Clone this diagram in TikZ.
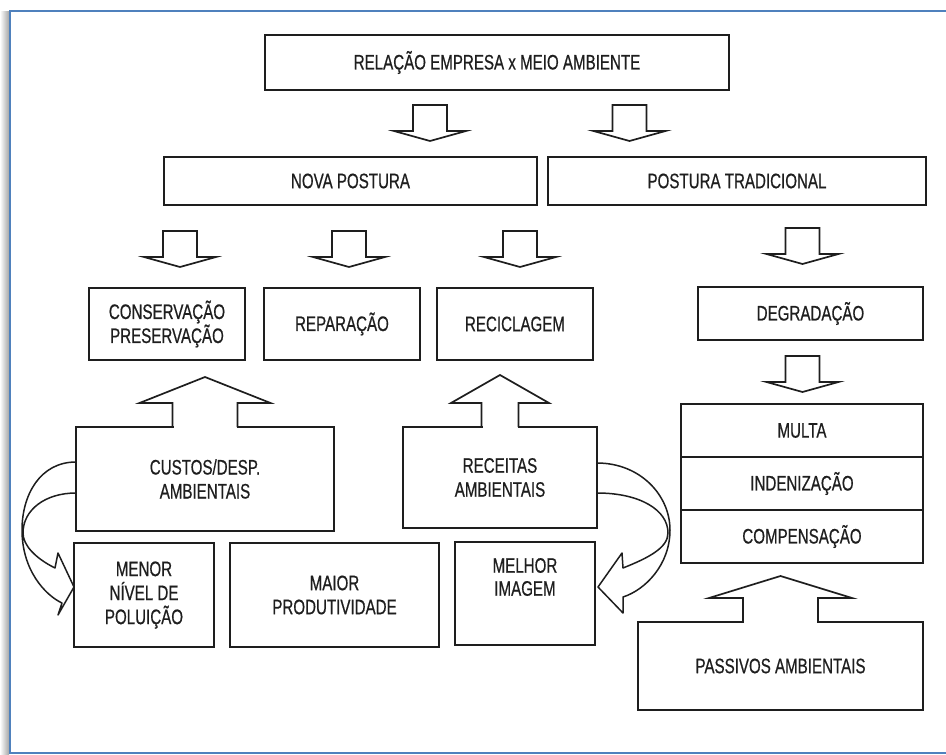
\documentclass[tikz,border=0pt]{standalone}
\usepackage{fontspec}
\setmainfont{Liberation Sans}[FakeStretch=0.72, FakeBold=0.6]
\usepackage{tikz}
\usetikzlibrary{positioning, calc}
\definecolor{framebl}{RGB}{79,129,189}
\definecolor{ink}{RGB}{30,30,30}
\tikzset{
    box/.style={rectangle, draw=ink, line width=2.3pt, text=ink, align=center, inner sep=0pt, outer sep=0pt, font=\fontsize{21}{24}\selectfont},
    plaintext/.style={text=ink, align=center, inner sep=0pt, font=\fontsize{21}{23}\selectfont},
    blockarrow/.style={draw=ink, line width=1.7pt},
    curvedarrow/.style={draw=ink, line width=1.5pt, line join=round},
    pics/downarrow/.style={code={
        \draw[blockarrow] (-17,0) -- (-17,26) -- (-36,26) -- (0,36) -- (36,26) -- (17,26) -- (17,0) -- cycle;
    }},
    pics/uparrow/.style n args={3}{code={
        \fill[white] (-#1+1,3) rectangle (#1-1,-2);
        \draw[blockarrow] (-#1,0) -- (-#1,-24) -- (-#2,-24) -- (0,-24-#3) -- (#2,-24) -- (#1,-24) -- (#1,0);
    }}
}

\begin{document}
\begin{tikzpicture}[x=1pt, y=-1pt]
    \useasboundingbox (0,0) rectangle (946,755);
    % frame
    \shade[left color=white, right color=black!35] (0,11) rectangle (9,754);
    \draw[framebl, line width=1.7pt] (946,11) -- (10,11) -- (10,753) -- (946,753);

    \node (relacao) [box, minimum width=464pt, minimum height=55pt] at (497,62.5) {RELAÇÃO EMPRESA x MEIO AMBIENTE};
    \node (nova) [box, minimum width=373pt, minimum height=48pt] at (350.5,181) {NOVA POSTURA};
    \node (tradicional) [box, minimum width=378pt, minimum height=48pt] at (737,181) {POSTURA TRADICIONAL};

    \node (conservacao) [box, minimum width=156pt, minimum height=72pt] at (167,324) {CONSERVAÇÃO\\PRESERVAÇÃO};
    \node (reparacao) [box, minimum width=156pt, minimum height=72pt] at (342,324) {REPARAÇÃO};
    \node (reciclagem) [box, minimum width=156pt, minimum height=72pt] at (515,324) {RECICLAGEM};
    \node (degradacao) [box, minimum width=225pt, minimum height=53pt] at (810.5,313.5) {DEGRADAÇÃO};

    \node (multa) [box, minimum width=242pt, minimum height=53pt] at (802,430.5) {MULTA};
    \node (indenizacao) [box, minimum width=242pt, minimum height=53pt, below=0pt of multa] {INDENIZAÇÃO};
    \node (compensacao) [box, minimum width=242pt, minimum height=53pt, below=0pt of indenizacao] {COMPENSAÇÃO};
    \node (passivos) [box, minimum width=285pt, minimum height=88pt] at (780.5,666) {PASSIVOS AMBIENTAIS};

    \node (custos) [box, minimum width=258pt, minimum height=104pt] at (205,479) {CUSTOS/DESP.\\AMBIENTAIS};
    \node (receitas) [box, minimum width=194pt, minimum height=101pt] at (500,477.5) {RECEITAS\\AMBIENTAIS};

    \node (menor) [box, minimum width=140pt, minimum height=104pt] at (144,595) {MENOR\\NÍVEL DE\\POLUIÇÃO};
    \node (maior) [box, minimum width=209pt, minimum height=104pt] at (334.5,595) {MAIOR\\PRODUTIVIDADE};
    \node (melhor) [box, minimum width=140pt, minimum height=103pt] at (525,593.5) {};
    \node (melhortxt) [plaintext] at (525,577) {MELHOR\\IMAGEM};

    % hollow down arrows
    \pic at (430,105) {downarrow};
    \pic at (629.5,105) {downarrow};
    \pic at (180,231) {downarrow};
    \pic at (349,231) {downarrow};
    \pic at (520,231) {downarrow};
    \pic at (802.5,228) {downarrow};
    \pic at (802.5,356) {downarrow};

    % hollow up arrows growing out of the boxes
    \pic at (custos.north) {uparrow={32.5}{65.5}{26}};
    \pic at (receitas.north) {uparrow={18.5}{49}{28}};
    \pic at (passivos.north) {uparrow={37.5}{71.5}{22}};

    % curved arrows
    \draw[curvedarrow] ($(custos.west)+(0,14)$) .. controls (45,493) and (23,510) .. (23,533)
        .. controls (23,545) and (35,558) .. (55,568) -- (58,553) -- ($(menor.west)+(0,-8)$) -- (58,615) -- (62,603)
        .. controls (45,595) and (22,570) .. (22,530) .. controls (22,495) and (40,462) .. ($(custos.west)+(0,-17)$);
    \draw[curvedarrow] ($(receitas.east)+(0,15.5)$) .. controls (640,493) and (668,510) .. (668,533)
        .. controls (668,548) and (648,558) .. (623,568) -- (622,553) -- ($(melhor.east)+(3,-6.5)$) -- (623,613) -- (623,597)
        .. controls (645,590) and (670,565) .. (670,530) .. controls (670,495) and (640,463) .. ($(receitas.east)+(0,-14.5)$);
\end{tikzpicture}
\end{document}
